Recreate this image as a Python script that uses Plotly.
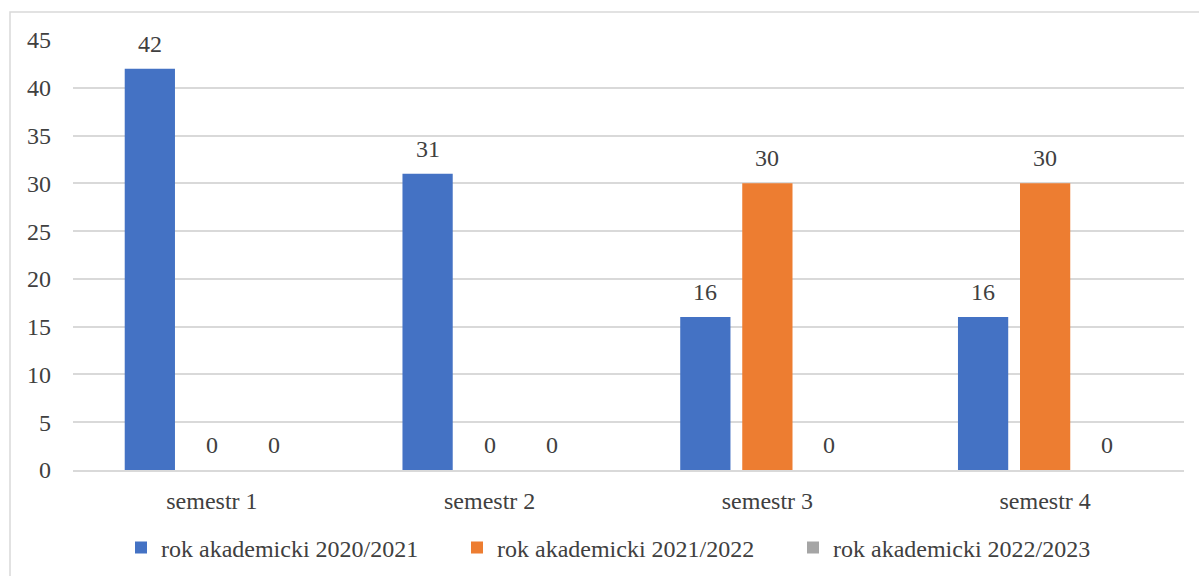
import plotly.graph_objects as go

categories = ["semestr 1", "semestr 2", "semestr 3", "semestr 4"]
series_names = ["rok akademicki 2020/2021", "rok akademicki 2021/2022", "rok akademicki 2022/2023"]
values_2020 = [42, 31, 16, 16]
values_2021 = [0, 0, 30, 30]
values_2022 = [0, 0, 0, 0]
y_ticks = [0, 5, 10, 15, 20, 25, 30, 35, 40, 45]

colors = ["#4472C4", "#ED7D31", "#A5A5A5"]
series_values = [values_2020, values_2021, values_2022]

FONT = "Liberation Serif, Times New Roman, serif"
TXT = "#404040"
FS = 24
BARGAP = 0.33
BARGROUPGAP = 0.19

fig = go.Figure()
for name, vals, col in zip(series_names, series_values, colors):
    fig.add_trace(go.Bar(x=categories, y=vals, name=name, marker_color=col,
                         marker_line_width=0))

annotations = []
n = len(series_values)
slot = (1 - BARGAP) / n
for j, vals in enumerate(series_values):
    for i, v in enumerate(vals):
        annotations.append(dict(
            x=i + (j - (n - 1) / 2) * slot, y=v, xref="x", yref="y",
            text=str(v), showarrow=False, yshift=25, yanchor="middle",
            font=dict(family=FONT, size=FS, color=TXT)))

W, H = 1199, 576
L, R, T, B = 73, 15, 40, 106
pw, ph = W - L - R, H - T - B

def px_x(p):
    return (p - L) / pw

def px_y(p):
    return (H - B - p) / ph

fig.update_layout(
    width=W, height=H,
    margin=dict(l=L, r=R, t=T, b=B, autoexpand=False),
    paper_bgcolor="white", plot_bgcolor="white",
    barmode="group", bargap=BARGAP, bargroupgap=BARGROUPGAP,
    font=dict(family=FONT, size=FS, color=TXT),
    showlegend=True,
    legend=dict(orientation="h", x=px_x(121), xanchor="left", y=px_y(548), yanchor="middle",
                font=dict(family=FONT, size=FS, color=TXT),
                entrywidth=291, entrywidthmode="pixels",
                itemclick=False, bgcolor="rgba(0,0,0,0)"),
    annotations=annotations,
    shapes=[dict(type="rect", xref="paper", yref="paper",
                 x0=px_x(10), x1=px_x(1230), y0=px_y(620), y1=px_y(12),
                 line=dict(color="#D9D9D9", width=1.5), fillcolor="rgba(0,0,0,0)",
                 layer="below")],
)
fig.update_yaxes(range=[0, 45], tickvals=y_ticks, showgrid=True, gridcolor="#D9D9D9",
                 gridwidth=1.5, zeroline=False, showline=False, ticks="",
                 ticklabelstandoff=21, tickfont=dict(family=FONT, size=FS, color=TXT))
fig.update_xaxes(showline=True, linecolor="#D9D9D9", linewidth=1.5, ticks="",
                 ticklabelstandoff=8, tickfont=dict(family=FONT, size=FS, color=TXT))

fig.write_html("out.html", config={"displayModeBar": False},
               post_script="document.body.style.margin='0';")
